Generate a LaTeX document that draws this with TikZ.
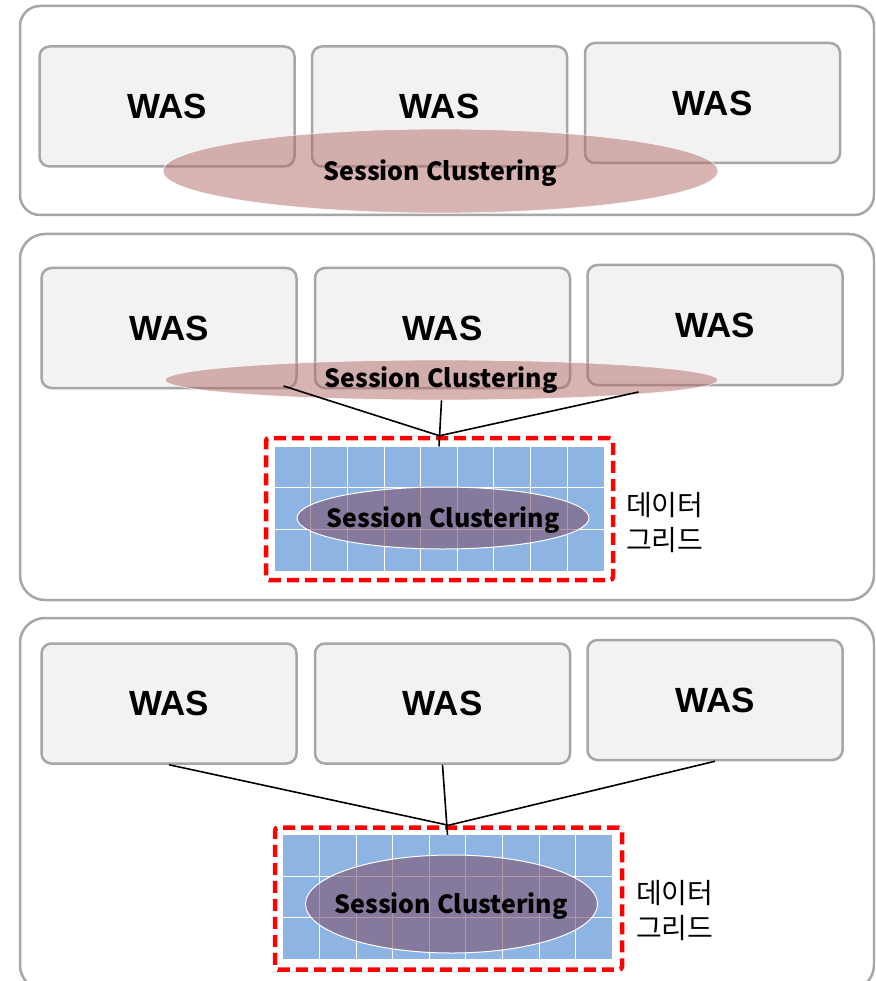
\documentclass[tikz,border=0pt]{standalone}
\usepackage{fontspec}
\setmainfont{Liberation Sans}
\newfontfamily\krfont{Noto Sans CJK KR}
\usetikzlibrary{shapes.geometric,calc}

\definecolor{panelgray}{RGB}{166,166,166}
\definecolor{boxfill}{RGB}{242,242,242}
\definecolor{sessred}{RGB}{177,105,103}
\definecolor{gridblue}{RGB}{141,180,226}
\definecolor{sessmauve}{RGB}{128,83,111}
\definecolor{framered}{RGB}{255,0,0}

\begin{document}
\begin{tikzpicture}[x=1pt,y=-1pt,
  panel/.style={draw=panelgray, line width=2.5pt, fill=white},
  wasbox/.style={draw=panelgray, line width=2.5pt, fill=boxfill,
    rounded corners=10pt, minimum width=255pt, minimum height=120pt,
    inner sep=0pt, font=\fontsize{35}{40}\selectfont\bfseries},
  sessring/.style={ellipse, inner sep=0pt, fill=sessred, fill opacity=0.5,
    draw=white, draw opacity=0.7, line width=0.8pt},
  sesstext/.style={inner sep=0pt, font=\krfont\bfseries\fontsize{25}{30}\selectfont},
  gridbox/.style={fill=gridblue, inner sep=0pt, minimum width=329pt, minimum height=124pt},
  gridline/.style={white, line width=1pt},
  gridframe/.style={draw=framered, line width=4.5pt, dash pattern=on 12pt off 6pt,
    rounded corners=3pt, inner sep=0pt, minimum width=347pt, minimum height=142pt},
  storering/.style={ellipse, inner sep=0pt, fill=sessmauve, fill opacity=0.6,
    draw=white, line width=1pt},
  gridlabel/.style={anchor=west, align=left, inner sep=0pt,
    font=\krfont\fontsize{28}{35}\selectfont},
  conn/.style={black, line width=1.6pt}
]
\useasboundingbox (0,0) rectangle (875,981);
\clip (0,0) rectangle (875,981);

% ---- panel 1: session clustering among the WAS nodes ----
\draw[panel, rounded corners=20pt] (20,6) rectangle (874,215);
\node[wasbox] (w11) at (167,106.5) {WAS};
\node[wasbox] (w12) at (439.5,106.5) {WAS};
\node[wasbox] (w13) at (712.5,103) {WAS};
\node[sessring, minimum width=555pt, minimum height=84pt] (e1) at (440.5,171) {};
\node[sesstext] (t1) at (440,173) {Session Clustering};

% ---- panel 2: clustering backed by a data grid ----
\draw[panel, rounded corners=25pt] (20,234) rectangle (874,600);
\node[wasbox] (w21) at (169,328) {WAS};
\node[wasbox] (w22) at (442.5,328) {WAS};
\node[wasbox] (w23) at (715,325) {WAS};
\node[sessring, minimum width=553pt, minimum height=40pt] (e2) at (441.5,380) {};
\node[sesstext] (t2) at (441,380) {Session Clustering};

\node[gridbox] (g2) at (439,508.5) {};
\foreach \i in {1,...,8}
  \draw[gridline] ($(g2.north west)!\i/9!(g2.north east)$) -- ($(g2.south west)!\i/9!(g2.south east)$);
\foreach \j in {1,2}
  \draw[gridline] ($(g2.north west)!\j/3!(g2.south west)$) -- ($(g2.north east)!\j/3!(g2.south east)$);
\node[gridframe] (f2) at (439.5,509) {};
\node[storering, minimum width=292pt, minimum height=62pt] (s2) at (443,518) {};
\node[sesstext] (u2) at (443,520) {Session Clustering};
\node[gridlabel] (l2) at (626,522.5) {데이터\\그리드};

\coordinate (e2l) at ($(e2.center)+(-158,6)$);
\coordinate (e2r) at ($(e2.center)+(197,12)$);
\draw[conn] (e2l) -- (f2.north);
\draw[conn] (e2.south) -- (g2.north);
\draw[conn] (e2r) -- (f2.north);

% ---- panel 3: data grid only ----
\draw[panel, rounded corners=25pt] (20,618) rectangle (874,990);
\node[wasbox] (w31) at (169,703.5) {WAS};
\node[wasbox] (w32) at (442.5,703.5) {WAS};
\node[wasbox] (w33) at (715,700) {WAS};

\node[gridbox] (g3) at (447.5,897) {};
\foreach \i in {1,...,8}
  \draw[gridline] ($(g3.north west)!\i/9!(g3.north east)$) -- ($(g3.south west)!\i/9!(g3.south east)$);
\foreach \j in {1,2}
  \draw[gridline] ($(g3.north west)!\j/3!(g3.south west)$) -- ($(g3.north east)!\j/3!(g3.south east)$);
\node[gridframe] (f3) at (448.5,898.5) {};
\node[storering, minimum width=292pt, minimum height=98pt] (s3) at (451.5,904) {};
\node[sesstext] (u3) at (451,906) {Session Clustering};
\node[gridlabel] (l3) at (636,910.5) {데이터\\그리드};

\draw[conn] (w31.south) -- (f3.north);
\draw[conn] (w32.south) -- (g3.north);
\draw[conn] (w33.south) -- (f3.north);
\end{tikzpicture}
\end{document}
